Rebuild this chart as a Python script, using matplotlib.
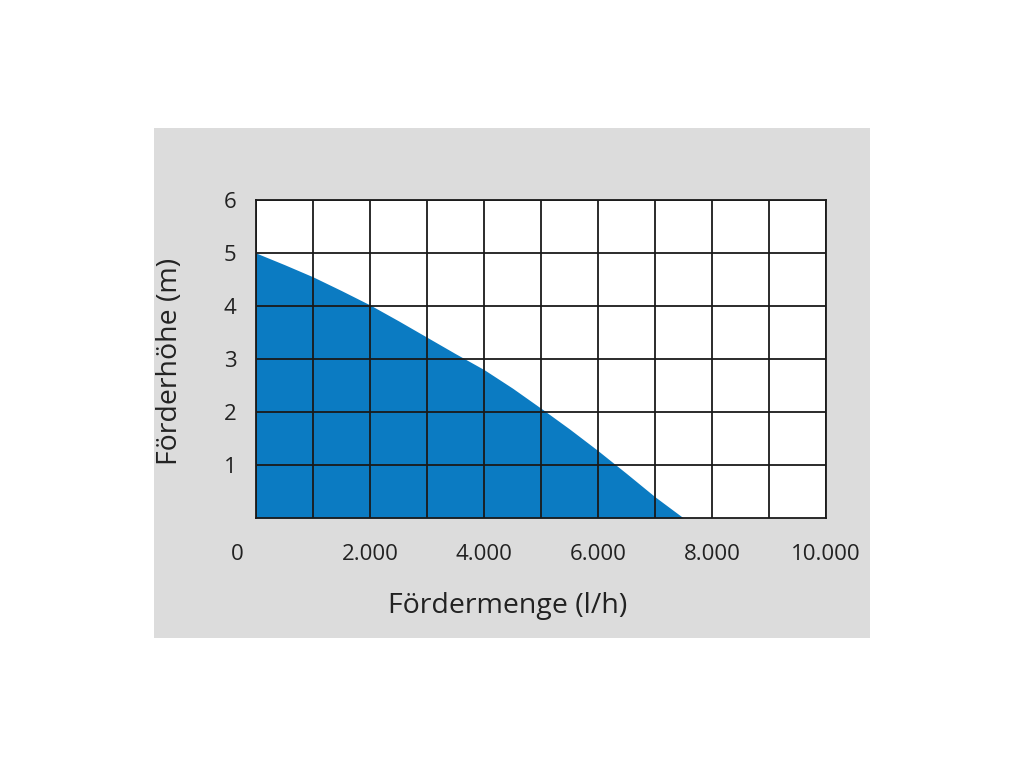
import matplotlib
matplotlib.use("Agg")
import matplotlib.pyplot as plt
from matplotlib.patches import Rectangle
from matplotlib.transforms import ScaledTranslation

flow = [0, 500, 1000, 1500, 2000, 2500, 3000, 3500, 4000, 4500, 5000, 5500, 6000, 6500, 7000, 7500]
head = [5.0, 4.78, 4.55, 4.29, 4.02, 3.72, 3.41, 3.1, 2.8, 2.45, 2.07, 1.68, 1.27, 0.84, 0.4, 0.0]
x_ticks = [0, 2000, 4000, 6000, 8000, 10000]
x_tick_labels = ["0", "2.000", "4.000", "6.000", "8.000", "10.000"]
y_ticks = [1, 2, 3, 4, 5, 6]
y_tick_labels = ["1", "2", "3", "4", "5", "6"]

plt.rcParams['font.family'] = ['Open Sans', 'DejaVu Sans']

fig = plt.figure(figsize=(10.24, 7.68), dpi=100)
fig.patch.set_facecolor('white')
bg = Rectangle((154/1024, 1-638/768), (870-154)/1024, (638-128)/768,
               transform=fig.transFigure, facecolor='#dcdcdc',
               edgecolor='none', zorder=-10)
fig.add_artist(bg)

ax = fig.add_axes([256/1024, 1-518/768, (826-256)/1024, (518-200)/768])
ax.set_zorder(5)
ax.set_facecolor('white')
ax.fill_between(flow, head, 0, color='#0b7bc2', linewidth=0, zorder=1)
ax.set_xlim(0, 10000)
ax.set_ylim(0, 6)

ax.set_xticks(x_ticks)
ax.set_xticklabels(x_tick_labels)
ax.set_xticks(range(1000, 10000, 2000), minor=True)
ax.set_yticks(y_ticks)
ax.set_yticklabels(y_tick_labels)
ax.grid(True, which='both', color='#1a1a1a', linewidth=1.3, zorder=2)
ax.set_axisbelow(False)
ax.tick_params(which='both', length=0)
ax.tick_params(axis='x', pad=19, labelsize=16, labelcolor='#222222')
ax.tick_params(axis='y', pad=14, labelsize=16, labelcolor='#222222')
for s in ax.spines.values():
    s.set_color('#1a1a1a')
    s.set_linewidth(1.3)

lbl0 = ax.get_xticklabels()[0]
lbl0.set_transform(lbl0.get_transform() + ScaledTranslation(-19/100, 0, fig.dpi_scale_trans))

fig.text(508/1024, 1-606/768, "Fördermenge (l/h)", ha='center', va='center',
         fontsize=20.5, color='#222222', zorder=6)
fig.text(170/1024, 1-361/768, "Förderhöhe (m)", ha='center', va='center',
         fontsize=20.5, color='#222222', rotation=90, zorder=6)

fig.savefig("out.png", dpi=100)
